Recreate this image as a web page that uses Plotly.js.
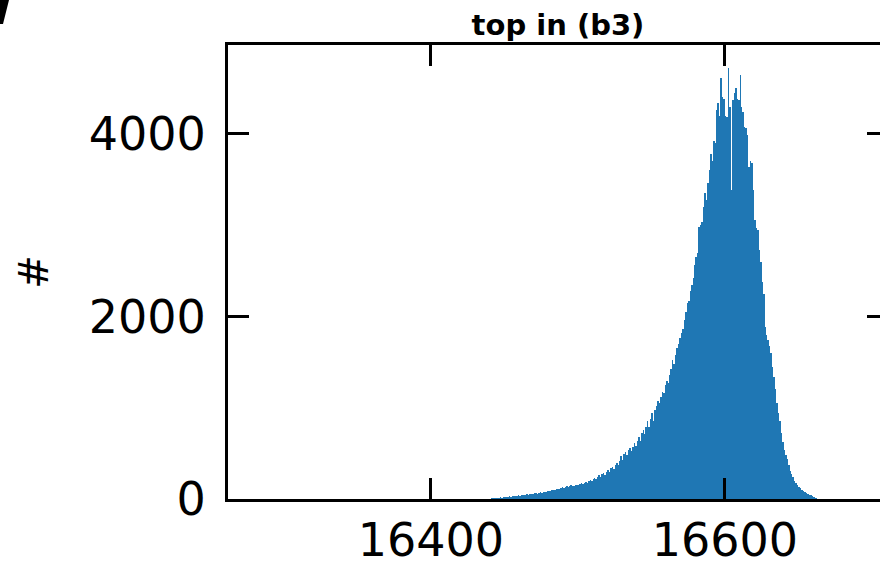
<!DOCTYPE html>
<html>
<head>
<meta charset="utf-8">
<script src="https://cdn.plot.ly/plotly-3.0.1.min.js"></script>
<style>
html,body{margin:0;padding:0;overflow:hidden;background:#fff;}
#chart{width:896px;height:563px;}
</style>
</head>
<body>
<div id="chart"></div>
<script>
// Histogram bins (integer bin start) and counts
const binStart = 16438;
const counts = [
  5,0,3,8,6,10,12,9,15,18,14,20,22,19,25,28,24,30,33,29,
  36,40,35,42,45,41,48,52,47,55,58,54,62,66,60,70,74,68,78,82,
  76,88,92,85,98,104,96,110,115,106,122,128,118,134,140,130,145,150,138,142,
  148,155,150,165,172,160,180,190,178,200,208,196,218,230,215,245,258,240,270,285,
  265,300,318,296,335,355,330,372,395,368,415,470,430,490,515,480,540,560,530,575,
  610,580,640,680,640,720,760,710,790,850,790,880,940,860,980,1020,1070,1050,1120,1170,
  1160,1250,1290,1270,1360,1430,1520,1480,1580,1650,1700,1760,1820,1860,1960,2050,2150,2170,2280,2350,
  2420,2560,2650,2700,2980,3000,3030,3200,3350,3280,3460,3600,3780,3700,3920,3900,4260,4340,4200,4610,
  4400,4380,4200,4190,4720,4300,3390,4370,4450,4500,4380,4370,4650,4300,4240,4080,4070,3990,3640,3700,
  3680,3390,3060,2970,2950,2730,2600,2380,2250,1890,1800,1740,1680,1600,1450,1340,1200,1050,940,850,
  720,620,540,480,440,370,310,270,240,200,175,150,135,120,100,85,72,62,52,46,
  40,30,20,12,6,3
];
const binCenters = counts.map((c, i) => binStart + i + 0.5);

const titleText = "top in (b3)";
const yTitle = "#";
const xTicks = [16400, 16600];
const yTicks = [0, 2000, 4000];

const trace = {
  type: 'bar',
  x: binCenters,
  y: counts,
  width: 1,
  marker: {color: '#1f77b4', line: {width: 0}},
  hoverinfo: 'x+y'
};

const axisCommon = {
  showgrid: false,
  zeroline: false,
  showline: true,
  linecolor: '#000',
  linewidth: 3,
  mirror: 'allticks',
  ticks: 'inside',
  ticklen: 21,
  tickwidth: 3,
  tickcolor: '#000',
  tickfont: {family: 'DejaVu Sans', size: 46, color: '#000'}
};

const layout = {
  width: 896,
  height: 563,
  margin: {l: 228, r: 8, t: 45, b: 64, pad: 0},
  paper_bgcolor: '#fff',
  plot_bgcolor: '#fff',
  bargap: 0,
  showlegend: false,
  title: {
    text: '<b>' + titleText + '</b>',
    font: {family: 'DejaVu Sans', size: 29, color: '#000'},
    x: 0.5, xref: 'paper', xanchor: 'center',
    y: 1, yref: 'paper', yanchor: 'bottom', pad: {b: 10}
  },
  xaxis: Object.assign({}, axisCommon, {
    range: [16262, 16711],
    tickmode: 'array',
    tickvals: xTicks,
    ticktext: xTicks.map(String),
    ticklabelstandoff: -1
  }),
  yaxis: Object.assign({}, axisCommon, {
    range: [0, 4975],
    tickmode: 'array',
    tickvals: yTicks,
    ticktext: yTicks.map(String),
    ticklabelstandoff: 10,
    title: {text: yTitle, font: {family: 'DejaVu Sans', size: 40, color: '#000'}, standoff: 28}
  }),
  shapes: [{
    type: 'path', xref: 'paper', yref: 'paper', layer: 'above',
    path: 'M -0.3455,1.0991 L -0.3318,1.0991 L -0.3409,1.0463 L -0.3455,1.0463 Z',
    fillcolor: '#000', line: {width: 0}
  }]
};

Plotly.newPlot('chart', [trace], layout, {displayModeBar: false, staticPlot: true});
</script>
</body>
</html>
